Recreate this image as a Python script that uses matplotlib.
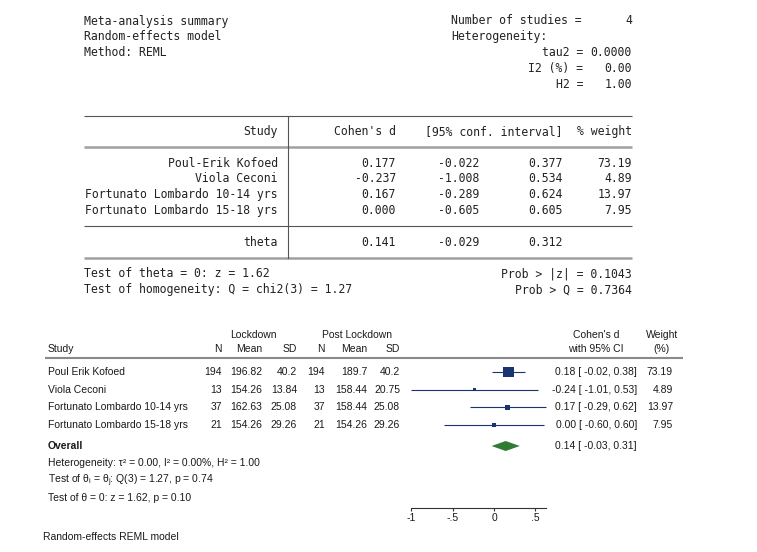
import matplotlib
matplotlib.use("Agg")
import matplotlib.pyplot as plt
import numpy as np

plt.rcParams['mathtext.fontset'] = 'custom'
plt.rcParams['mathtext.rm'] = 'Liberation Sans'
plt.rcParams['mathtext.it'] = 'Liberation Sans:italic'

# ---- data ----
study_names_log = ["Poul-Erik Kofoed", "Viola Ceconi",
                   "Fortunato Lombardo 10-14 yrs", "Fortunato Lombardo 15-18 yrs"]
study_names_plot = ["Poul Erik Kofoed", "Viola Ceconi",
                    "Fortunato Lombardo 10-14 yrs", "Fortunato Lombardo 15-18 yrs"]
n_lock = [194, 13, 37, 21]
mean_lock = [196.82, 154.26, 162.63, 154.26]
sd_lock = [40.2, 13.84, 25.08, 29.26]
n_post = [194, 13, 37, 21]
mean_post = [189.7, 158.44, 158.44, 154.26]
sd_post = [40.2, 20.75, 25.08, 29.26]
cohen_d = [0.177, -0.237, 0.167, 0.000]
ci_low = [-0.022, -1.008, -0.289, -0.605]
ci_high = [0.377, 0.534, 0.624, 0.605]
weight = [73.19, 4.89, 13.97, 7.95]
theta, theta_low, theta_high = 0.141, -0.029, 0.312
tau2, i2, h2 = 0.0, 0.0, 1.0
z_stat, p_z = 1.62, 0.1043
q_stat, q_df, p_q = 1.27, 3, 0.7364
xticks = [-1, -0.5, 0, 0.5]
xtick_labels = ["-1", "-.5", "0", ".5"]

fig = plt.figure(figsize=(7.57, 5.52), dpi=100)
ax = fig.add_axes([0, 0, 1, 1])
ax.set_xlim(0, 757)
ax.set_ylim(552, 0)
ax.axis('off')

# ---- Stata log part (monospace) ----
X0, CW = 83.6, 6.94
Y0, LH = 21, 15.8
MONO = dict(family='DejaVu Sans Mono', size=8.3, color='#222222', va='center')
RULE = '#6e6e6e'


def mono(col, line, s, right=False):
    if right:
        ax.text(X0 + (col + 1) * CW, Y0 + line * LH, s, ha='right', **MONO)
    else:
        ax.text(X0 + col * CW, Y0 + line * LH, s, ha='left', **MONO)


def hrule(line, lw, color):
    ax.plot([X0, X0 + 79 * CW], [Y0 + line * LH] * 2, color=color, lw=lw,
            solid_capstyle='butt')


mono(0, 0, "Meta-analysis summary")
mono(0, 1, "Random-effects model")
mono(0, 2, "Method: REML")
mono(53, 0, "Number of studies =")
mono(78, 0, str(len(cohen_d)), right=True)
mono(53, 1, "Heterogeneity:")
mono(71, 2, "tau2 =", right=True)
mono(78, 2, f"{tau2:.4f}", right=True)
mono(71, 3, "I2 (%) =", right=True)
mono(78, 3, f"{i2:.2f}", right=True)
mono(71, 4, "H2 =", right=True)
mono(78, 4, f"{h2:.2f}", right=True)

hrule(6, 0.8, '#555555')
mono(27, 7, "Study", right=True)
mono(44, 7, "Cohen's d", right=True)
mono(68, 7, "[95% conf. interval]", right=True)
mono(78, 7, "% weight", right=True)
hrule(8, 1.8, '#a0a0a0')
for i, name in enumerate(study_names_log):
    mono(27, 9 + i, name, right=True)
    mono(44, 9 + i, f"{cohen_d[i]:.3f}", right=True)
    mono(56, 9 + i, f"{ci_low[i]:.3f}", right=True)
    mono(68, 9 + i, f"{ci_high[i]:.3f}", right=True)
    mono(78, 9 + i, f"{weight[i]:.2f}", right=True)
hrule(13, 0.8, '#555555')
mono(27, 14, "theta", right=True)
mono(44, 14, f"{theta:.3f}", right=True)
mono(56, 14, f"{theta_low:.3f}", right=True)
mono(68, 14, f"{theta_high:.3f}", right=True)
hrule(15, 1.8, '#a0a0a0')
ax.plot([X0 + 29.5 * CW] * 2, [Y0 + 6 * LH, Y0 + 15 * LH], color='#555555', lw=0.8)
mono(0, 16, f"Test of theta = 0: z = {z_stat:.2f}")
mono(78, 16, f"Prob > |z| = {p_z:.4f}", right=True)
mono(0, 17, f"Test of homogeneity: Q = chi2({q_df}) = {q_stat:.2f}")
mono(78, 17, f"Prob > Q = {p_q:.4f}", right=True)

# ---- forest plot part ----
SANS = dict(family='Liberation Sans', size=7.5, color='#1a1a1a', va='center')
NAVY = '#1c3372'
GREEN = '#2e7b31'
row_y = [372 + 17.6 * i for i in range(len(cohen_d))]
overall_y = 446

ax.text(253, 335, "Lockdown", ha='center', **SANS)
ax.text(357, 335, "Post Lockdown", ha='center', **SANS)
ax.text(48, 349, "Study", ha='left', **SANS)
col_right = [222, 262, 297, 325, 367, 400]
for xr, lab in zip(col_right, ["N", "Mean", "SD", "N", "Mean", "SD"]):
    ax.text(xr, 349, lab, ha='right', **SANS)
ax.text(596, 335, "Cohen's d", ha='center', **SANS)
ax.text(596, 349, "with 95% CI", ha='center', **SANS)
ax.text(662, 335, "Weight", ha='center', **SANS)
ax.text(662, 349, "(%)", ha='center', **SANS)
ax.plot([45, 683], [357.5, 357.5], color='#8a8a8a', lw=1.5, solid_capstyle='butt')

for i, name in enumerate(study_names_plot):
    y = row_y[i]
    ax.text(48, y, name, ha='left', **SANS)
    cols = [n_lock[i], mean_lock[i], sd_lock[i], n_post[i], mean_post[i], sd_post[i]]
    for xr, v in zip(col_right, cols):
        ax.text(xr, y, f"{v:g}", ha='right', **SANS)
    ax.text(637, y, f"{cohen_d[i]:.2f} [ {ci_low[i]:.2f}, {ci_high[i]:.2f}]", ha='right', **SANS)
    ax.text(673, y, f"{weight[i]:.2f}", ha='right', **SANS)

ax.text(48, overall_y, "Overall", ha='left', fontweight='bold', **SANS)
ax.text(637, overall_y, f"{theta:.2f} [ {theta_low:.2f}, {theta_high:.2f}]", ha='right', **SANS)
ax.text(48, 463, f"Heterogeneity: τ² = {tau2:.2f}, I² = {i2:.2f}%, H² = {h2:.2f}",
        ha='left', **SANS)
ax.text(48, 481, rf"Test of $\mathregular{{\theta_i}}$ = $\mathregular{{\theta_j}}$: "
        f"Q({q_df}) = {q_stat:.2f}, p = {p_q:.2f}", ha='left', **SANS)
ax.text(48, 498, f"Test of θ = 0: z = {z_stat:.2f}, p = {p_z:.2f}", ha='left', **SANS)
ax.text(43, 537, "Random-effects REML model", ha='left', **SANS)

# forest axes: x in Cohen's d, y in figure pixels
PX0, PXU = 494, 82.7
fx = fig.add_axes([400 / 757, 0, 160 / 757, 1])
fx.set_xlim((400 - PX0) / PXU, (560 - PX0) / PXU)
fx.set_ylim(552, 0)
fx.patch.set_visible(False)
for s in ['top', 'left', 'right']:
    fx.spines[s].set_visible(False)
fx.spines['bottom'].set_position(('data', 508))
fx.spines['bottom'].set_bounds(min(ci_low), max(ci_high))
fx.spines['bottom'].set_color('#333333')
fx.spines['bottom'].set_linewidth(0.8)
fx.set_yticks([])
fx.set_xticks(xticks)
fx.set_xticklabels(xtick_labels, family='Liberation Sans', fontsize=7.5, color='#1a1a1a')
fx.tick_params(axis='x', direction='out', length=2.2, width=0.8, color='#333333', pad=1.5)

fx.hlines(row_y, ci_low, ci_high, color=NAVY, lw=0.8)
fx.scatter(cohen_d, row_y, marker='s', s=np.array(weight) * 0.857, color=NAVY,
           edgecolors='none', zorder=3)
fx.fill([theta_low, theta, theta_high, theta],
        [overall_y, overall_y - 5, overall_y, overall_y + 5], color=GREEN, lw=0)

fig.savefig("out.png", dpi=100)
